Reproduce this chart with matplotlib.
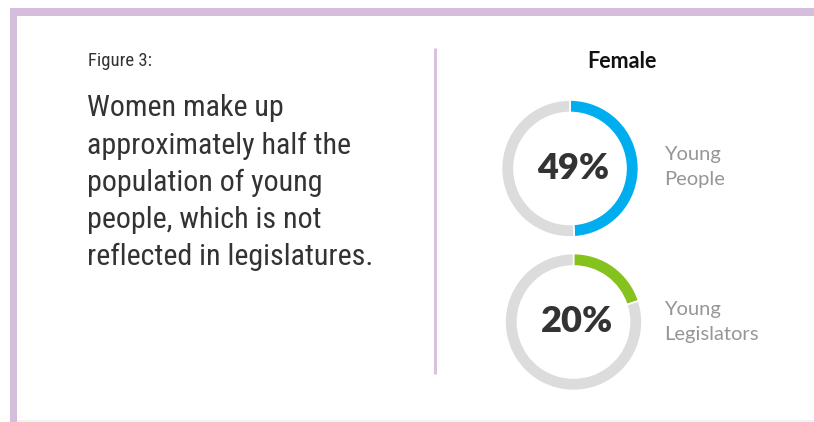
import matplotlib.pyplot as plt
from matplotlib.patches import Rectangle

# data
groups = ['Young\nPeople', 'Young\nLegislators']
female_share = [49, 20]
ring_colors = ['#00AEEF', '#86C21E']
rest_color = '#DCDCDC'

title_small = 'Figure 3:'
headline = ['Women make up', 'approximately half the', 'population of young',
            'people, which is not', 'reflected in legislatures.']
panel_title = 'Female'

cond = ['Roboto Condensed', 'Roboto', 'DejaVu Sans']
lato = ['Lato', 'DejaVu Sans']

W, H = 814, 422
fig = plt.figure(figsize=(W / 100, H / 100), dpi=100)
bg = fig.add_axes([0, 0, 1, 1])
bg.set_xlim(0, W)
bg.set_ylim(H, 0)
bg.axis('off')

# frame + divider
border = '#D5BDDC'
bg.add_patch(Rectangle((10, 8), W - 10, 8, color=border, lw=0))
bg.add_patch(Rectangle((10, 8), 7, H - 8, color=border, lw=0))
bg.add_patch(Rectangle((17, 420), W - 17, 1.5, color='#F2F2F2', lw=0))
bg.plot([434.5, 434.5], [48, 374], color='#D7C3DF', lw=2.2, solid_capstyle='butt')

bg.text(88, 61, title_small, fontsize=13.5, family=cond, color='#333333',
        ha='left', va='center')
for i, line in enumerate(headline):
    bg.text(87, 108.5 + i * 37, line, fontsize=21.6, family=cond, color='#333333',
            ha='left', va='center')

bg.text(622, 62, panel_title, fontsize=15.5, family=lato, fontweight='bold',
        color='#111111', ha='center', va='center')

centers = [(570, 168.5), (573.5, 322)]
label_y = [167, 322]
R = 68.5
for (cx, cy), val, col, lab, ly in zip(centers, female_share, ring_colors, groups, label_y):
    box = 72
    ax = fig.add_axes([(cx - box) / W, (H - cy - box) / H, 2 * box / W, 2 * box / H])
    ax.pie([val, 100 - val], colors=[col, rest_color], startangle=90,
           counterclock=False, radius=R,
           wedgeprops=dict(width=12.5, edgecolor='white', linewidth=1.2))
    ax.set_xlim(-box, box)
    ax.set_ylim(-box, box)
    ax.set_aspect('equal')
    ax.axis('off')
    ax.text(3, 0, f'{val}%', fontsize=26, family=lato, fontweight='heavy',
            color='#333333', ha='center', va='center')
    bg.text(664, ly, lab, fontsize=14.5, family=lato,
            color='#969696', ha='left', va='center', linespacing=1.6)

fig.savefig('out.png', dpi=100, facecolor='white')
